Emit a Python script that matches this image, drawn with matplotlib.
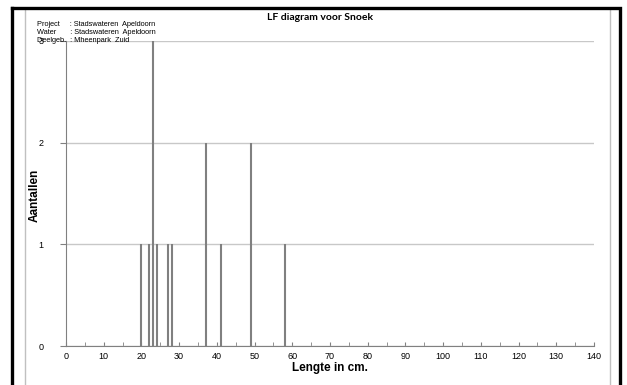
import matplotlib
matplotlib.use("Agg")
from matplotlib import pyplot as plt
from matplotlib.lines import Line2D

# data
lengte = [20, 22, 23, 24, 27, 28, 37, 41, 49, 58]
aantal = [1, 1, 3, 1, 1, 1, 2, 1, 2, 1]
yticks = [0, 1, 2, 3]
xticks = list(range(0, 141, 10))
header = ["Project     : Stadswateren  Apeldoorn",
          "Water       : Stadswateren  Apeldoorn",
          "Deelgeb.  : Mheenpark  Zuid"]

W, H = 627, 385
plt.rcParams['font.family'] = ['Liberation Sans', 'DejaVu Sans']

fig = plt.figure(figsize=(W / 100, H / 100), dpi=100)
ax = fig.add_axes([66 / W, 1 - 346 / H, 528 / W, 305 / H])


def fx(px):
    return px / W


def fy(py):
    return 1 - py / H


# frames around the chart
fig.add_artist(Line2D([fx(25.5), fx(25.5)], [fy(9), fy(H + 5)], color="#c0c0c0", lw=1))
fig.add_artist(Line2D([fx(609.5), fx(609.5)], [fy(9), fy(H + 5)], color="#c0c0c0", lw=1))
fig.add_artist(Line2D([fx(12), fx(619.5), fx(619.5)], [fy(8), fy(8), fy(H + 5)],
                      color="black", lw=2.4, solid_joinstyle="miter"))
fig.add_artist(Line2D([fx(12), fx(12)], [fy(8), fy(H + 5)], color="black", lw=2.4))

ax.vlines(lengte, 0, aantal, color="#808080", lw=1.5, zorder=3)

ax.set_xlim(0, 140)
ax.set_ylim(0, 3)
ax.set_xticks(xticks)
ax.set_xticks(range(5, 141, 10), minor=True)
ax.set_yticks(yticks)
ax.grid(axis="y", color="#c8c8c8", lw=1, zorder=0)
for s in ["top", "right"]:
    ax.spines[s].set_visible(False)
for s in ["left", "bottom"]:
    ax.spines[s].set_color("#808080")
    ax.spines[s].set_zorder(4)
ax.tick_params(axis="x", which="both", direction="in", length=3, color="#808080",
               labelsize=6.5, pad=4)
ax.tick_params(axis="y", direction="out", length=4, color="#808080", labelsize=6.5, pad=12)

ax.set_xlabel("Lengte in cm.", fontsize=8.5, fontweight="bold", labelpad=1)
ax.set_ylabel("Aantallen", fontsize=8.5, fontweight="bold")
ax.yaxis.set_label_coords((41 - 66) / 528, 0.495)

fig.text(fx(320), fy(18), "LF diagram voor Snoek", fontsize=7.5, fontweight="bold",
         family=["Lato", "DejaVu Sans"], ha="center", va="center")
for i, line in enumerate(header):
    fig.text(fx(37), fy(24 + 8.5 * i), line, fontsize=5.3, ha="left", va="center")

fig.savefig("out.png", dpi=100)
